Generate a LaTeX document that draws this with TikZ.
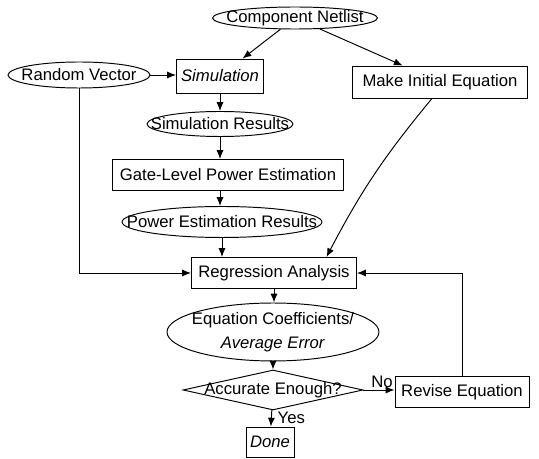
\documentclass[tikz,border=0pt]{standalone}
\usepackage{fontspec}
\setmainfont{Liberation Sans}
\usepackage{tikz}
\usetikzlibrary{shapes.geometric,arrows.meta}

\begin{document}
\begin{tikzpicture}[x=0.02cm,y=-0.02cm,
    font=\fontsize{9.5}{11}\selectfont,
    line width=0.55pt,
    box/.style={draw,rectangle,inner sep=0pt},
    oval/.style={draw,ellipse,inner sep=0pt},
    test/.style={draw,diamond,inner sep=0pt},
    flow/.style={-{Latex[length=5pt,width=4pt]}}]
    \useasboundingbox (0,0) rectangle (539,459);
    % nodes
    \node[oval,minimum width=3.3cm,minimum height=0.42cm] (net) at (295,18) {\makebox[0pt]{Component Netlist}};
    \node[oval,minimum width=2.84cm,minimum height=0.52cm] (rand) at (79,75) {\makebox[0pt]{Random Vector}};
    \node[box,minimum width=1.74cm,minimum height=0.68cm] (sim) at (220,76) {\textit{Simulation}};
    \node[box,minimum width=3.52cm,minimum height=0.64cm] (init) at (440,82) {Make Initial Equation};
    \node[oval,minimum width=2.92cm,minimum height=0.5cm] (simres) at (220,124) {\makebox[0pt]{Simulation Results}};
    \node[box,minimum width=4.62cm,minimum height=0.62cm] (gate) at (228,175) {Gate-Level Power Estimation};
    \node[oval,minimum width=4.0cm,minimum height=0.62cm] (powres) at (222,222) {\makebox[0pt]{Power Estimation Results}};
    \node[box,minimum width=3.3cm,minimum height=0.62cm] (reg) at (274,273) {Regression Analysis};
    \node[oval,minimum width=4.24cm,minimum height=1.16cm,align=center,
      font=\fontsize{9.5}{13.6}\selectfont] (coef) at (273,332)
      {\makebox[0pt]{Equation Coefficients/}\\\makebox[0pt]{\textit{Average Error}}};
    \node[test,minimum width=3.6cm,minimum height=0.8cm] (acc) at (273,390) {\makebox[0pt]{Accurate Enough?}};
    \node[box,minimum width=2.68cm,minimum height=0.62cm] (rev) at (462,392) {Revise Equation};
    \node[box,minimum width=0.96cm,minimum height=0.6cm] (done) at (270,442) {\textit{Done}};
    % connectors
    \draw[flow] (net) -- (sim);
    \draw[flow] (net) -- (init);
    \draw[flow] (rand) -- (rand -| sim.west);
    \draw[flow] (sim) -- (simres);
    \draw[flow] (simres) -- (simres |- gate.north);
    \draw[flow] (simres |- gate.south) -- (simres |- powres.north);
    \draw[flow] (powres) -- (powres |- reg.north);
    \draw[flow] (rand) |- (reg);
    \draw[flow] ([xshift=-0.16cm]init.south) to[bend right=6] ([xshift=1.05cm]reg.north);
    \draw[flow] (reg) -- (reg |- coef.north);
    \draw[flow] (coef) -- (acc);
    \draw[flow] (acc) -- node[right,pos=0.45] {Yes} (done);
    \draw[flow] (acc) -- node[above,pos=0.6,inner sep=1pt] {No} (acc -| rev.west);
    \draw[flow] (rev.north) |- (reg);
  \end{tikzpicture}
\end{document}
